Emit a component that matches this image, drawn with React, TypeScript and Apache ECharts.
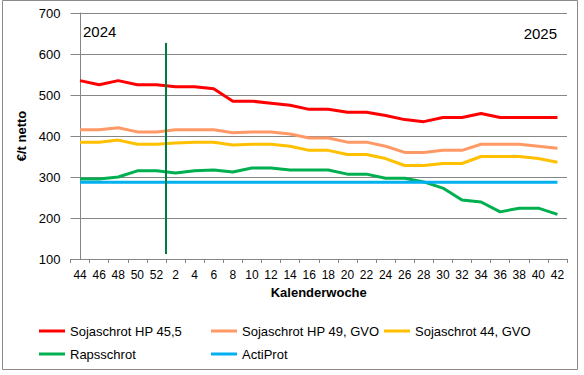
import React, { useEffect, useRef } from "react";
import * as echarts from "echarts";

const weeks = ["44","46","48","50","52","2","4","6","8","10","12","14","16","18","20","22","24","26","28","30","32","34","36","38","40","42"];
const sojaHP455 = [535,525,535,525,525,520,520,515,485,485,480,475,465,465,458,458,450,440,435,445,445,455,445,445,445,445];
const sojaHP49 = [415,415,420,410,410,415,415,415,408,410,410,405,395,395,385,385,375,360,360,365,365,380,380,380,375,370];
const soja44 = [385,385,390,380,380,383,385,385,378,380,380,375,365,365,355,355,345,328,328,333,333,350,350,350,345,336];
const raps = [295,295,300,315,315,310,315,317,312,322,322,317,317,317,307,307,297,297,288,273,244,239,215,224,224,209];
const actiProt = [287,287,287,287,287,287,287,287,287,287,287,287,287,287,287,287,287,287,287,287,287,287,287,287,287,287];
const yearBoundary = [[4.5, 112], [4.5, 627]];

const FONT = "'Liberation Sans', Arial, sans-serif";

export default function App() {
  const ref = useRef<HTMLDivElement>(null);
  useEffect(() => {
    if (!ref.current) return;
    const chart = echarts.init(ref.current, null, { renderer: "svg" });
    const mk = (name: string, data: number[], color: string) => ({
      name, type: "line", data, symbol: "none", smooth: false,
      lineStyle: { color, width: 3 }, itemStyle: { color }, silent: true,
    });
    const legendItem = (name: string, left: number, top: number) => ({
      data: [name], left, top, itemWidth: 26, itemHeight: 3, icon: "rect",
      textStyle: { fontFamily: FONT, fontSize: 13, color: "#000", lineHeight: 14 },
      selectedMode: false,
    });
    chart.setOption({
      animation: false,
      textStyle: { fontFamily: FONT },
      grid: { left: 70.5, right: 17, top: 13, bottom: 116 },
      xAxis: [
        {
          type: "category", data: weeks, boundaryGap: true,
          name: "Kalenderwoche", nameLocation: "middle", nameGap: 26,
          nameTextStyle: { fontFamily: FONT, fontSize: 13, fontWeight: "bold", color: "#000" },
          axisLine: { lineStyle: { color: "#868686", width: 1 } },
          axisTick: { show: true, length: 4, lineStyle: { color: "#868686" } },
          axisLabel: { interval: 0, margin: 10, fontFamily: FONT, fontSize: 12, color: "#000" },
          splitLine: { show: false },
        },
        { type: "value", min: -0.5, max: 25.5, show: false },
      ],
      yAxis: {
        type: "value", min: 100, max: 700, interval: 100,
        name: "€/t netto", nameLocation: "middle", nameGap: 37, nameRotate: 90,
        nameTextStyle: { fontFamily: FONT, fontSize: 13, fontWeight: "bold", color: "#000" },
        axisLine: { show: true, lineStyle: { color: "#868686", width: 1 } },
        axisTick: { show: true, length: 4, lineStyle: { color: "#868686" } },
        axisLabel: { margin: 10, fontFamily: FONT, fontSize: 13, color: "#000" },
        splitLine: { show: true, lineStyle: { color: "#868686", width: 1 } },
      },
      legend: [
        legendItem("Sojaschrot HP 45,5", 34, 319),
        legendItem("Sojaschrot HP 49, GVO", 206, 319),
        legendItem("Sojaschrot 44, GVO", 379, 319),
        legendItem("Rapsschrot", 34, 342),
        legendItem("ActiProt", 206, 342),
      ],
      series: [
        mk("Sojaschrot HP 45,5", sojaHP455, "#FF0000"),
        mk("Sojaschrot HP 49, GVO", sojaHP49, "#FF9966"),
        mk("Sojaschrot 44, GVO", soja44, "#FFC000"),
        mk("Rapsschrot", raps, "#00B050"),
        mk("ActiProt", actiProt, "#00B0F0"),
        {
          name: "Jahreswechsel", type: "line", xAxisIndex: 1, data: yearBoundary,
          symbol: "none", silent: true, lineStyle: { color: "#007A3D", width: 2 }, z: 5,
        },
      ],
      graphic: [
        { type: "rect", shape: { x: 2.5, y: 0.5, width: 575, height: 369 }, style: { fill: "none", stroke: "#8a8a8a", lineWidth: 1 }, silent: true, z: -1 },
        { type: "text", left: 83, top: 24, style: { text: "2024", fontFamily: FONT, fontSize: 15, fill: "#000" } },
        { type: "text", right: 584 - 557, top: 26, style: { text: "2025", fontFamily: FONT, fontSize: 15, fill: "#000" } },
      ],
    });
    return () => chart.dispose();
  }, []);
  return <div ref={ref} style={{ position: "absolute", left: 0, top: 0, width: 584, height: 375, background: "#fff" }} />;
}
